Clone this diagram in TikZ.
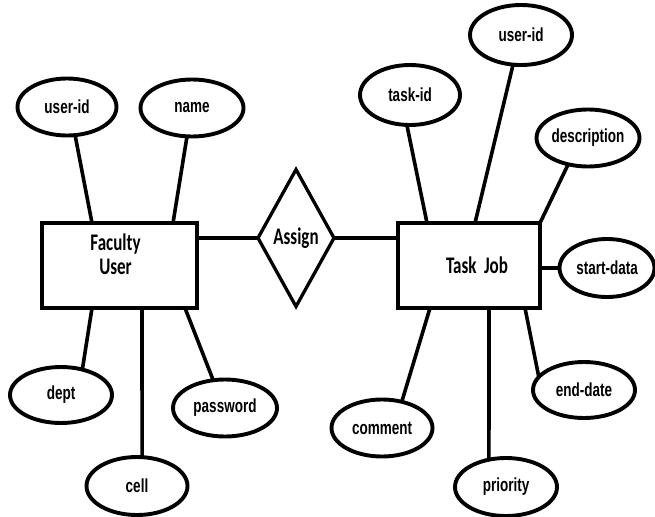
\documentclass[tikz,border=0pt]{standalone}
\usepackage{fontspec}
\usepackage{graphicx}
\usetikzlibrary{shapes.geometric,calc}
\setmainfont{Liberation Sans}
\newfontfamily\boxfont{Carlito}
% narrow, tall lettering used throughout the diagram
\newcommand\stretchtxt[1]{\scalebox{1}[1.4]{#1}}

\tikzset{
  erline/.style={line width=3.6pt},
  entity/.style={draw, rectangle, line width=3.9pt, inner sep=0pt, outer sep=0pt},
  attr/.style={draw, ellipse, line width=3.9pt, inner sep=0pt, outer sep=0pt,
               font=\fontsize{13.5}{15}\selectfont\bfseries},
  relation/.style={draw, diamond, line width=3.3pt, inner sep=0pt, outer sep=0pt,
               font=\boxfont\fontsize{17}{19}\selectfont\bfseries},
  entlabel/.style={font=\boxfont\fontsize{17}{21}\selectfont\bfseries, align=center}
}

\begin{document}
\begin{tikzpicture}[x=1pt, y=-1pt]
  \useasboundingbox[fill=white] (0,0) rectangle (655,516);

  % entities
  \node[entity, minimum width=155pt, minimum height=85pt,
        label={[entlabel, name=fulab, yshift=11pt, xshift=-4pt]center:{\stretchtxt{Faculty}\\[3pt]\stretchtxt{User}}}]
        (fu) at (119.5,265.5) {};
  \node[entity, minimum width=142pt, minimum height=85pt,
        label={[entlabel, name=tjlab, xshift=8pt]center:{\stretchtxt{Task\hspace{0.45em}Job}}}]
        (tj) at (469,265.5) {};

  % relationship
  \node[relation, minimum width=76pt, minimum height=137pt] (asg) at (296,238) {\stretchtxt{Assign}};

  % attributes of Faculty User
  \node[attr, minimum width=99pt,  minimum height=57pt] (fuid)  at (67,107)  {\stretchtxt{user-id}};
  \node[attr, minimum width=103pt, minimum height=57pt] (fname) at (192,108) {\stretchtxt{name}};
  \node[attr, minimum width=102pt, minimum height=56pt] (dept)  at (61,395)  {\stretchtxt{dept}};
  \node[attr, minimum width=101pt, minimum height=58pt] (cell)  at (137,486) {\stretchtxt{cell}};
  \node[attr, minimum width=104pt, minimum height=57pt] (pw)    at (225,408) {\stretchtxt{password}};

  % attributes of Task Job
  \node[attr, minimum width=100pt, minimum height=60pt] (tid)   at (410,95)  {\stretchtxt{task-id}};
  \node[attr, minimum width=102pt, minimum height=60pt] (tuid)  at (521,35)  {\stretchtxt{user-id}};
  \node[attr, minimum width=103pt, minimum height=57pt] (desc)  at (588,138) {\stretchtxt{description}};
  \node[attr, minimum width=95pt,  minimum height=58pt] (sd)    at (607,268) {\stretchtxt{start-data}};
  \node[attr, minimum width=102pt, minimum height=56pt] (ed)    at (584,390) {\stretchtxt{end-date}};
  \node[attr, minimum width=101pt, minimum height=57pt] (cm)    at (382,428) {\stretchtxt{comment}};
  \node[attr, minimum width=102pt, minimum height=58pt] (pr)    at (506,487) {\stretchtxt{priority}};

  % relationship links
  \draw[erline] (asg.west) -- (asg.west -| fu.east);
  \draw[erline] (asg.east) -- (asg.east -| tj.west);

  % Faculty User attribute links
  \draw[erline] (fuid.-74)  -- ($(fu.north west)+(50,0)$);
  \draw[erline] (fname.-100) -- ($(fu.north west)+(131,0)$);
  \draw[erline] (dept.50)   -- ($(fu.south west)+(50,0)$);
  \draw[erline] (cell.80)   -- ($(fu.south west)+(100,0)$);
  \draw[erline] (pw.113)    -- ($(fu.south west)+(143,0)$);

  % Task Job attribute links
  \draw[erline] (tid.-96)   -- ($(tj.north west)+(29,0)$);
  \draw[erline] (tuid.-105) -- ($(tj.north west)+(77,0)$);
  \draw[erline] (desc.-127) -- (tj.north east);
  \draw[erline] (sd.west)   -- (sd.west -| tj.east);
  \draw[erline] (ed.164)    -- ($(tj.south west)+(127,0)$);
  \draw[erline] (cm.53)     -- ($(tj.south west)+(32,0)$);
  \draw[erline] (pr.122)    -- ($(tj.south west)+(91,0)$);
\end{tikzpicture}
\end{document}
